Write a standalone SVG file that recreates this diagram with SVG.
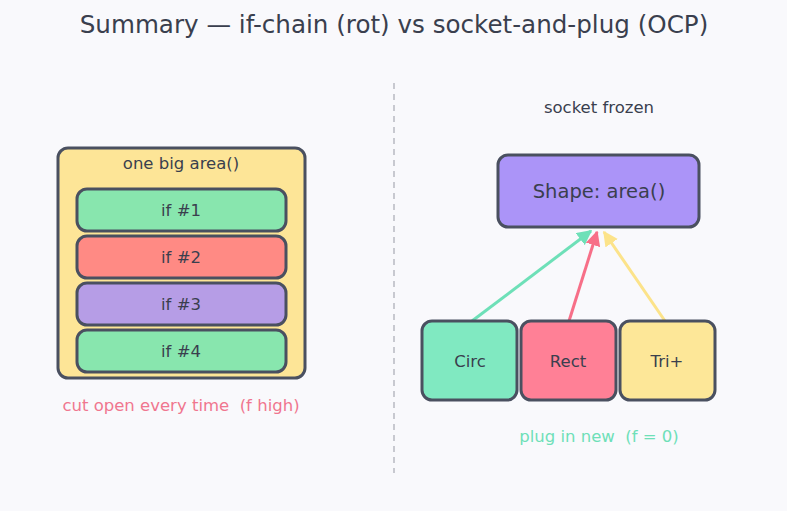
<svg xmlns="http://www.w3.org/2000/svg" width="787" height="511" viewBox="0 0 787 511">
<defs>
<style>
text{font-family:"DejaVu Sans","Noto Sans",sans-serif;fill:#3a3f4e;text-anchor:middle;dominant-baseline:central;white-space:pre}
.box{stroke:#4a5060;stroke-width:3}
.lbl{font-size:16.5px}
.conn{stroke-width:3;fill:none}
</style>
<marker id="ag" viewBox="0 0 10 10" refX="9" refY="5" markerWidth="5" markerHeight="5" orient="auto" markerUnits="strokeWidth"><path d="M0,0 L10,5 L0,10 z" fill="#6ee0b8"/></marker>
<marker id="ar" viewBox="0 0 10 10" refX="9" refY="5" markerWidth="5" markerHeight="5" orient="auto" markerUnits="strokeWidth"><path d="M0,0 L10,5 L0,10 z" fill="#f76f88"/></marker>
<marker id="ay" viewBox="0 0 10 10" refX="9" refY="5" markerWidth="5" markerHeight="5" orient="auto" markerUnits="strokeWidth"><path d="M0,0 L10,5 L0,10 z" fill="#fce38a"/></marker>
</defs>
<rect width="787" height="511" fill="#f9f9fc"/>
<text x="394" y="24" font-size="24.6">Summary — if-chain (rot) vs socket-and-plug (OCP)</text>
<line x1="394" y1="83" x2="394" y2="473" stroke="#c8c9d0" stroke-width="2" stroke-dasharray="6,5"/>

<g id="bigArea">
<rect class="box" x="58" y="148" width="247" height="230" rx="10" fill="#fde597"/>
<text class="lbl" x="181" y="163">one big area()</text>
</g>
<g id="if1"><rect class="box" x="77" y="189" width="209" height="42" rx="10" fill="#88e6ae"/><text class="lbl" x="181" y="210">if #1</text></g>
<g id="if2"><rect class="box" x="77" y="236" width="209" height="42" rx="10" fill="#ff8a84"/><text class="lbl" x="181" y="257">if #2</text></g>
<g id="if3"><rect class="box" x="77" y="283" width="209" height="42" rx="10" fill="#b69de6"/><text class="lbl" x="181" y="304">if #3</text></g>
<g id="if4"><rect class="box" x="77" y="330" width="209" height="42" rx="10" fill="#88e6ae"/><text class="lbl" x="181" y="351">if #4</text></g>
<text class="lbl" x="181" y="405" style="fill:#f0768f">cut open every time  (f high)</text>

<text class="lbl" x="599" y="107">socket frozen</text>
<g id="connectors">
<line class="conn" x1="472" y1="321" x2="591" y2="231" stroke="#6ee0b8" marker-end="url(#ag)"/>
<line class="conn" x1="569" y1="321" x2="597" y2="232" stroke="#f76f88" marker-end="url(#ar)"/>
<line class="conn" x1="665" y1="321" x2="604" y2="232" stroke="#fce38a" marker-end="url(#ay)"/>
</g>
<g id="shape"><rect class="box" x="498" y="155" width="201" height="72" rx="10" fill="#ab94f8"/><text x="599" y="191" font-size="19.5">Shape: area()</text></g>
<g id="circ"><rect class="box" x="422" y="321" width="95" height="79" rx="10" fill="#80e9c1"/><text class="lbl" x="470" y="361">Circ</text></g>
<g id="rect"><rect class="box" x="521" y="321" width="95" height="79" rx="10" fill="#ff8096"/><text class="lbl" x="568" y="361">Rect</text></g>
<g id="tri"><rect class="box" x="620" y="321" width="95" height="79" rx="10" fill="#fde798"/><text class="lbl" x="667" y="361">Tri+</text></g>
<text class="lbl" x="599" y="436" style="fill:#6ee0b8">plug in new  (f = 0)</text>
</svg>
